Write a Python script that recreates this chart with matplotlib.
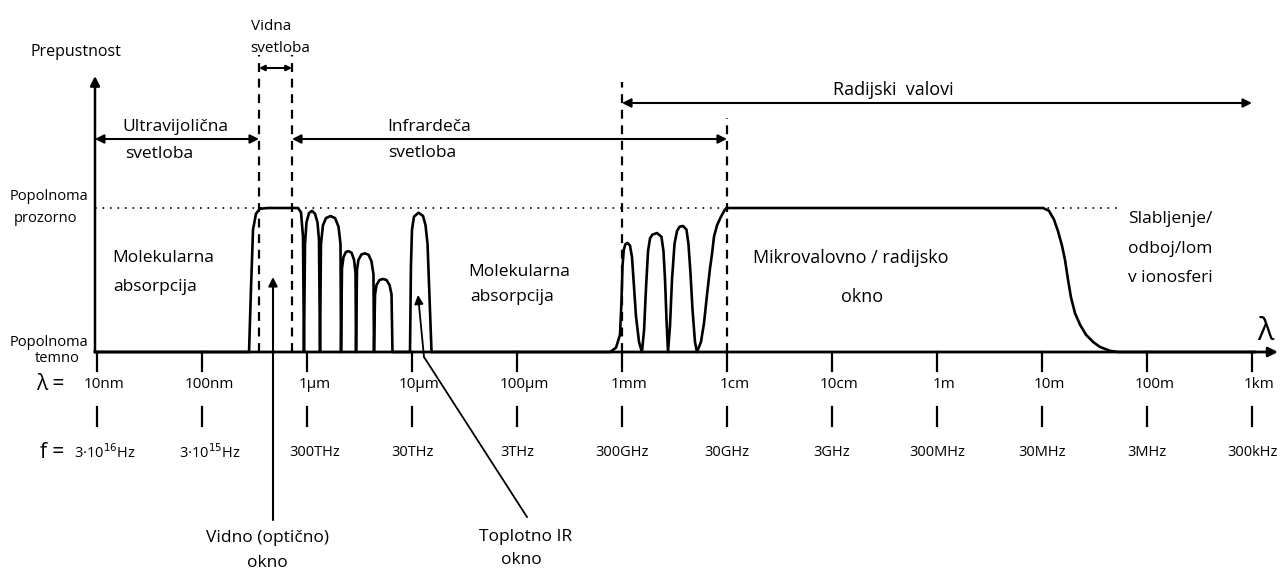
import matplotlib.pyplot as plt

plt.rcParams['font.family'] = ['Open Sans', 'DejaVu Sans']

# x is in decades: d = log10(lambda / 10 nm), so 0 = 10 nm ... 11 = 1 km
lambda_labels = ['10nm', '100nm', '1µm', '10µm', '100µm', '1mm',
                 '1cm', '10cm', '1m', '10m', '100m', '1km']
freq_labels = ['3·10$^{16}$Hz', '3·10$^{15}$Hz', '300THz', '30THz', '3THz', '300GHz',
               '30GHz', '3GHz', '300MHz', '30MHz', '3MHz', '300kHz']

# transmittance curve (0 = popolnoma temno, 1 = popolnoma prozorno)
curve_d = [-0.02, 1.448, 1.467, 1.486, 1.514, 1.552, 1.629, 1.914, 1.943, 1.962, 1.971,
           1.981, 1.995, 2.019, 2.048, 2.076, 2.1, 2.114, 2.124,
           2.133, 2.152, 2.181, 2.224, 2.267, 2.3, 2.319, 2.324,
           2.333, 2.348, 2.371, 2.395, 2.424, 2.448, 2.462, 2.467,
           2.476, 2.49, 2.519, 2.552, 2.586, 2.614, 2.633, 2.638,
           2.648, 2.662, 2.69, 2.724, 2.757, 2.786, 2.805, 2.814,
           2.981, 2.99, 3.0, 3.019, 3.062, 3.105, 3.129, 3.148, 3.186,
           4.886, 4.943, 4.981, 4.995, 5.005, 5.017, 5.033, 5.052, 5.076, 5.095, 5.11, 5.133, 5.162, 5.19,
           5.21, 5.229, 5.248, 5.267, 5.29, 5.333, 5.376, 5.395, 5.41, 5.424, 5.438,
           5.457, 5.476, 5.5, 5.524, 5.548, 5.581, 5.614, 5.633, 5.652, 5.671, 5.695, 5.714,
           5.752, 5.781, 5.81, 5.838, 5.857, 5.876, 5.905, 5.943, 5.981, 6.01,
           9.01, 9.067, 9.114, 9.152, 9.19, 9.219, 9.248, 9.276, 9.314, 9.362, 9.419,
           9.486, 9.552, 9.648, 9.724, 11.03]
curve_t = [0, 0, 0.45, 0.85, 0.96, 0.995, 1.0, 1.0, 0.97, 0.8, 0.0,
           0.75, 0.9, 0.965, 0.98, 0.96, 0.9, 0.78, 0.0,
           0.75, 0.88, 0.93, 0.944, 0.93, 0.87, 0.75, 0.0,
           0.58, 0.66, 0.695, 0.70, 0.69, 0.64, 0.55, 0.0,
           0.57, 0.64, 0.678, 0.685, 0.675, 0.63, 0.54, 0.0,
           0.40, 0.465, 0.5, 0.507, 0.5, 0.465, 0.4, 0.0,
           0.0, 0.6, 0.85, 0.94, 0.967, 0.945, 0.88, 0.75, 0.0,
           0.0, 0.03, 0.12, 0.35, 0.6, 0.71, 0.75, 0.757, 0.74, 0.66, 0.5, 0.25, 0.07, 0.0,
           0.15, 0.45, 0.7, 0.79, 0.815, 0.826, 0.8, 0.7, 0.5, 0.22, 0.0,
           0.18, 0.5, 0.75, 0.84, 0.87, 0.875, 0.85, 0.75, 0.55, 0.3, 0.07, 0.0,
           0.07, 0.2, 0.4, 0.58, 0.68, 0.8, 0.88, 0.94, 0.99, 1.0,
           1.0, 0.98, 0.92, 0.84, 0.74, 0.64, 0.5, 0.38, 0.27, 0.19, 0.12,
           0.07, 0.035, 0.008, 0.0, 0.0]

# band edges (decades)
visible_band = [1.543, 1.857]
uv_band = [-0.02, 1.543]
ir_band = [1.857, 6.0]
radio_band = [5.0, 11.0]

# pixel -> data helpers for placing the annotations
X0, DEC, Y0, UNIT = 97, 105.0, 352, 144.0
def px(x):
    return (x - X0) / DEC
def py(y):
    return (Y0 - y) / UNIT

fig = plt.figure(figsize=(12.83, 5.7), dpi=100)
ax = fig.add_axes([0, 0, 1, 1])
ax.set_xlim(px(0), px(1283))
ax.set_ylim(py(570), py(0))
ax.axis('off')

k = 'black'
fs = 12.5
fw = 'medium'

# axes with arrows
ax.annotate('', xy=(px(95), py(76)), xytext=(px(95), 0),
            arrowprops=dict(arrowstyle='-|>', lw=1.8, color=k, mutation_scale=14, shrinkA=0, shrinkB=0))
ax.annotate('', xy=(px(1278), 0), xytext=(px(95), 0),
            arrowprops=dict(arrowstyle='-|>', lw=2.0, color=k, mutation_scale=14, shrinkA=0, shrinkB=0))

# transmittance
ax.plot(curve_d, curve_t, color=k, lw=1.9, solid_joinstyle='round')

# "popolnoma prozorno" dotted level
ax.plot([px(95), px(1122)], [1, 1], color=k, lw=1.2, linestyle=(0, (1, 3.5)))

# ticks and separators
for i, (lab, flab) in enumerate(zip(lambda_labels, freq_labels)):
    ax.plot([i, i], [0, py(371)], color=k, lw=1.6)
    ax.plot([i, i], [py(407), py(426)], color=k, lw=1.6)
    ax.text(i + 0.07, py(385), lab, ha='center', va='center', fontsize=11, fontweight=fw)
    ax.text(i + 0.07 if i < 3 else i, py(453), flab, ha='center', va='center', fontsize=10.5, fontweight=fw)
ax.text(px(36), py(385), 'λ =', ha='left', va='center', fontsize=15)
ax.text(px(40), py(453), 'f =', ha='left', va='center', fontsize=15)

# dashed band boundaries
dash = dict(color=k, lw=1.6, linestyle=(0, (4, 3)))
ax.plot([visible_band[0]] * 2, [0, py(55)], **dash)
ax.plot([visible_band[1]] * 2, [0, py(55)], **dash)
ax.plot([radio_band[0]] * 2, [0, py(82)], **dash)
ax.plot([ir_band[1]] * 2, [0, py(118)], **dash)

arr = dict(arrowstyle='<|-|>', lw=1.5, color=k, mutation_scale=13, shrinkA=0, shrinkB=0)
ax.annotate('', xy=(visible_band[0], py(68)), xytext=(visible_band[1], py(68)),
            arrowprops=dict(arr, mutation_scale=8))
ax.annotate('', xy=(uv_band[0], py(139)), xytext=(uv_band[1], py(139)), arrowprops=arr)
ax.annotate('', xy=(ir_band[0], py(139)), xytext=(ir_band[1], py(139)), arrowprops=arr)
ax.annotate('', xy=(radio_band[0], py(103)), xytext=(radio_band[1], py(103)), arrowprops=arr)

# band names
ax.text(px(271), py(27), 'Vidna', ha='center', va='center', fontsize=11, fontweight=fw)
ax.text(px(280), py(48), 'svetloba', ha='center', va='center', fontsize=11, fontweight=fw)
ax.text(px(122), py(127), 'Ultravijolična', ha='left', va='center', fontsize=fs, fontweight=fw)
ax.text(px(125), py(154), 'svetloba', ha='left', va='center', fontsize=fs, fontweight=fw)
ax.text(px(387), py(127), 'Infrardeča', ha='left', va='center', fontsize=fs, fontweight=fw)
ax.text(px(388), py(153), 'svetloba', ha='left', va='center', fontsize=fs, fontweight=fw)
ax.text(px(833), py(90), 'Radijski  valovi', ha='left', va='center', fontsize=13, fontweight=fw)

# y axis labels
ax.text(px(30), py(52), 'Prepustnost', ha='left', va='center', fontsize=11.5, fontweight=fw)
ax.text(px(10), py(197), 'Popolnoma', ha='left', va='center', fontsize=10.5, fontweight=fw)
ax.text(px(14), py(219), 'prozorno', ha='left', va='center', fontsize=10.5, fontweight=fw)
ax.text(px(10), py(342), 'Popolnoma', ha='left', va='center', fontsize=10.5, fontweight=fw)
ax.text(px(35), py(359), 'temno', ha='left', va='center', fontsize=10.5, fontweight=fw)
ax.text(px(1265), py(332), 'λ', ha='center', va='center', fontsize=22)

# region descriptions
ax.text(px(112), py(258), 'Molekularna', ha='left', va='center', fontsize=fs, fontweight=fw)
ax.text(px(113), py(287), 'absorpcija', ha='left', va='center', fontsize=fs, fontweight=fw)
ax.text(px(468), py(272), 'Molekularna', ha='left', va='center', fontsize=fs, fontweight=fw)
ax.text(px(470), py(297), 'absorpcija', ha='left', va='center', fontsize=fs, fontweight=fw)
ax.text(px(753), py(258), 'Mikrovalovno / radijsko', ha='left', va='center', fontsize=13, fontweight=fw)
ax.text(px(862), py(297), 'okno', ha='center', va='center', fontsize=13, fontweight=fw)
ax.text(px(1128), py(219), 'Slabljenje/', ha='left', va='center', fontsize=fs, fontweight=fw)
ax.text(px(1128), py(249), 'odboj/lom', ha='left', va='center', fontsize=fs, fontweight=fw)
ax.text(px(1128), py(278), 'v ionosferi', ha='left', va='center', fontsize=fs, fontweight=fw)

# window pointers
ax.annotate('', xy=(px(273), py(277)), xytext=(px(273), py(520)),
            arrowprops=dict(arrowstyle='-|>', lw=1.5, color=k, mutation_scale=13, shrinkA=0, shrinkB=0))
ax.text(px(268), py(538), 'Vidno (optično)', ha='center', va='center', fontsize=fs, fontweight=fw)
ax.text(px(267), py(563), 'okno', ha='center', va='center', fontsize=fs, fontweight=fw)
ax.plot([px(527), px(424)], [py(517), py(357)], color=k, lw=1.3)
ax.annotate('', xy=(px(418), py(295)), xytext=(px(424), py(357)),
            arrowprops=dict(arrowstyle='-|>', lw=1.3, color=k, mutation_scale=13, shrinkA=0, shrinkB=0))
ax.text(px(526), py(537), 'Toplotno IR', ha='center', va='center', fontsize=fs, fontweight=fw)
ax.text(px(521), py(560), 'okno', ha='center', va='center', fontsize=fs, fontweight=fw)

fig.savefig('out.png', dpi=100)
